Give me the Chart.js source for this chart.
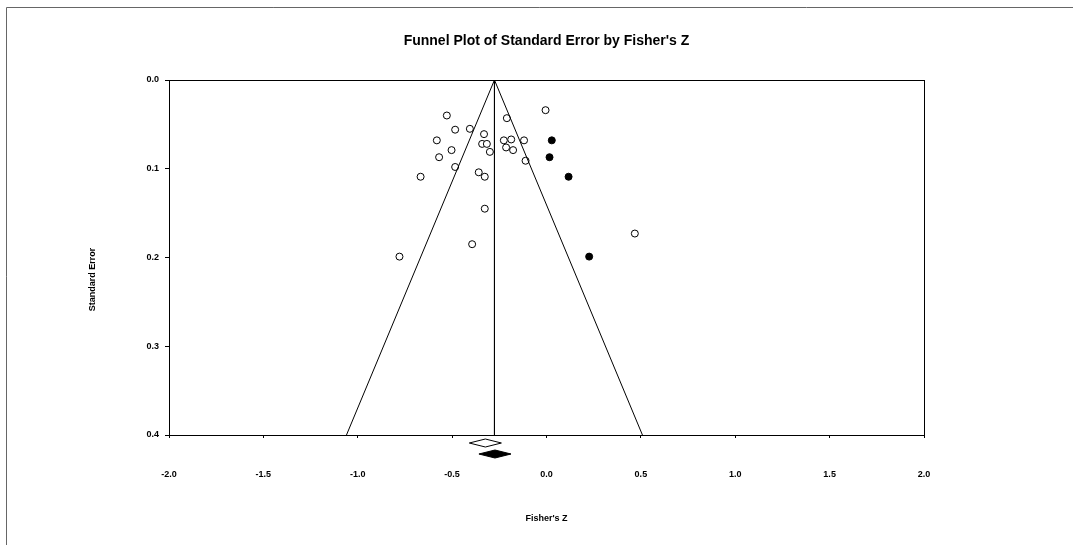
<!DOCTYPE html>
<html>
<head>
<meta charset="utf-8">
<script src="https://cdn.jsdelivr.net/npm/chart.js@4/dist/chart.umd.min.js"></script>
<style>
  html, body { margin: 0; padding: 0; background: #fff; }
  canvas { display: block; }
</style>
</head>
<body>
<canvas id="funnel" width="1073" height="545"></canvas>
<script>
// observed studies (open circles)
const obsZ = [-0.528, -0.005, -0.210, -0.484, -0.406, -0.331, -0.581, -0.341, -0.316, -0.300,
              -0.226, -0.187, -0.119, -0.214, -0.177, -0.503, -0.569, -0.111, -0.484, -0.667,
              -0.359, -0.327, -0.327, 0.468, -0.394, -0.779];
const obsSE = [0.040, 0.034, 0.043, 0.056, 0.055, 0.061, 0.068, 0.072, 0.072, 0.081,
               0.068, 0.067, 0.068, 0.076, 0.079, 0.079, 0.087, 0.091, 0.098, 0.109,
               0.104, 0.109, 0.145, 0.173, 0.185, 0.199];

// imputed studies (filled circles)
const impZ = [0.028, 0.016, 0.117, 0.226];
const impSE = [0.068, 0.087, 0.109, 0.199];

// funnel and adjusted mean line
const funnelZ = [-1.0597, -0.2757, 0.5083];
const funnelSE = [0.4, 0.0, 0.4];
const meanZ = [-0.2757, -0.2757];
const meanSE = [0.0, 0.4];

// summary diamonds: observed, adjusted
const diamondZ = [-0.324, -0.273];
const diamondHalf = [0.085, 0.085];
const diamondFill = ['#ffffff', '#000000'];

const xTicks = [-2.0, 2.0, 0.5];   // min, max, step
const yTicks = [0.0, 0.4, 0.1];

const toPoints = (xs, ys) => xs.map((x, i) => ({ x: x, y: ys[i] }));

Chart.defaults.font.family = 'Arial, "Liberation Sans", sans-serif';
Chart.defaults.color = '#000';

const framePlugin = {
    id: 'frame',
    beforeDraw(chart) {
        const ctx = chart.ctx;
        ctx.save();
        ctx.fillStyle = '#fff';
        ctx.fillRect(0, 0, chart.width, chart.height);
        ctx.strokeStyle = '#666';
        ctx.lineWidth = 1;
        ctx.beginPath();
        ctx.moveTo(6.5, chart.height);
        ctx.lineTo(6.5, 7.5);
        ctx.lineTo(chart.width, 7.5);
        ctx.stroke();
        ctx.restore();
    },
    afterDraw(chart) {
        const a = chart.chartArea;
        const ctx = chart.ctx;
        ctx.save();
        ctx.strokeStyle = '#000';
        ctx.lineWidth = 1;
        ctx.strokeRect(Math.round(a.left) + 0.5, Math.round(a.top) + 0.5,
                       Math.round(a.right - a.left), Math.round(a.bottom - a.top));

        // y axis title, sits a bit below the centre like the original
        ctx.font = 'bold 9px Arial, "Liberation Sans", sans-serif';
        ctx.fillStyle = '#000';
        ctx.textAlign = 'center';
        ctx.textBaseline = 'middle';
        ctx.translate(93, (a.top + a.bottom) / 2 + 22);
        ctx.rotate(-Math.PI / 2);
        ctx.fillText('Standard Error', 0, 0);
        ctx.restore();

        // summary diamonds under the axis
        const xs = chart.scales.x;
        diamondZ.forEach((z, i) => {
            const cx = xs.getPixelForValue(z);
            const hw = xs.getPixelForValue(z + diamondHalf[i]) - cx;
            const cy = a.bottom + 8 + i * 11;
            ctx.save();
            ctx.beginPath();
            ctx.moveTo(cx - hw, cy);
            ctx.lineTo(cx, cy - 4);
            ctx.lineTo(cx + hw, cy);
            ctx.lineTo(cx, cy + 4);
            ctx.closePath();
            ctx.fillStyle = diamondFill[i];
            ctx.fill();
            ctx.strokeStyle = '#000';
            ctx.lineWidth = 1;
            ctx.stroke();
            ctx.restore();
        });
    }
};

new Chart(document.getElementById('funnel'), {
    type: 'scatter',
    data: {
        datasets: [
            {
                label: 'Funnel',
                data: toPoints(funnelZ, funnelSE),
                showLine: true,
                borderColor: '#000',
                borderWidth: 1,
                pointRadius: 0,
                fill: false
            },
            {
                label: 'Mean',
                data: toPoints(meanZ, meanSE),
                showLine: true,
                borderColor: '#000',
                borderWidth: 1,
                pointRadius: 0,
                fill: false
            },
            {
                label: 'Observed',
                data: toPoints(obsZ, obsSE),
                pointRadius: 3.5,
                pointBorderWidth: 1,
                pointBackgroundColor: '#fff',
                pointBorderColor: '#000'
            },
            {
                label: 'Imputed',
                data: toPoints(impZ, impSE),
                pointRadius: 3.5,
                pointBorderWidth: 1,
                pointBackgroundColor: '#000',
                pointBorderColor: '#000'
            }
        ]
    },
    options: {
        responsive: false,
        animation: false,
        layout: { padding: { left: 0, right: 149, top: 0, bottom: 0 } },
        plugins: {
            legend: { display: false },
            tooltip: { enabled: false },
            title: {
                display: true,
                fullSize: false,
                text: "Funnel Plot of Standard Error by Fisher's Z",
                font: { size: 14, weight: 'bold' },
                color: '#000',
                padding: { top: 33, bottom: 30.2 }
            }
        },
        scales: {
            x: {
                type: 'linear',
                min: xTicks[0],
                max: xTicks[1],
                afterFit(scale) { scale.height = 110; },
                ticks: {
                    stepSize: xTicks[2],
                    padding: 31,
                    font: { size: 9, weight: 'bold' },
                    color: '#000',
                    callback: v => v.toFixed(1)
                },
                grid: { drawOnChartArea: false, drawTicks: true, tickLength: 3, color: '#000' },
                border: { color: '#000' },
                title: {
                    display: true,
                    text: "Fisher's Z",
                    font: { size: 9, weight: 'bold' },
                    color: '#000',
                    padding: { top: 0, bottom: 21 }
                }
            },
            y: {
                type: 'linear',
                reverse: true,
                min: yTicks[0],
                max: yTicks[1],
                afterFit(scale) { scale.width = 169; },
                ticks: {
                    stepSize: yTicks[2],
                    padding: 6,
                    font: { size: 9, weight: 'bold' },
                    color: '#000',
                    callback: v => v.toFixed(1)
                },
                grid: { drawOnChartArea: false, drawTicks: true, tickLength: 4, color: '#000' },
                border: { color: '#000' }
            }
        }
    },
    plugins: [framePlugin]
});
</script>
</body>
</html>
